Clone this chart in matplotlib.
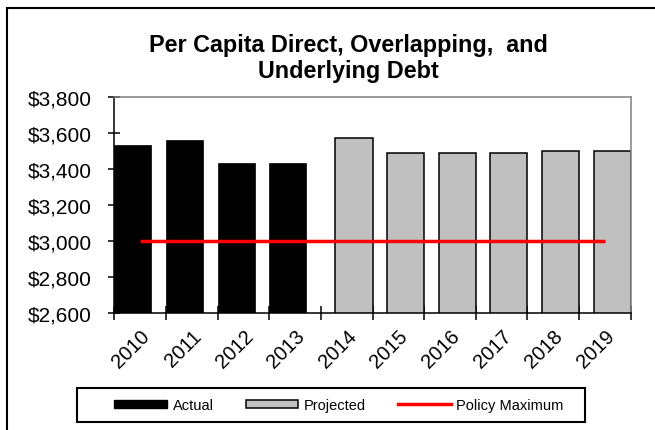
import matplotlib
matplotlib.use("Agg")
import matplotlib.pyplot as plt
from matplotlib.patches import Patch, Rectangle
from matplotlib.lines import Line2D
from matplotlib.ticker import FuncFormatter
import numpy as np

# data
actual_years = ['2010', '2011', '2012', '2013']
actual_debt = [3530, 3560, 3430, 3430]
projected_years = ['2014', '2015', '2016', '2017', '2018', '2019']
projected_debt = [3570, 3490, 3490, 3490, 3500, 3500]
policy_max = 3000
y_ticks = [2600, 2800, 3000, 3200, 3400, 3600, 3800]

plt.rcParams['font.family'] = ['Liberation Sans', 'DejaVu Sans']

W, H = 655, 431
fig = plt.figure(figsize=(W / 100, H / 100), dpi=100)

# outer chart border (runs off the right and bottom of the picture)
fig.patches.append(Rectangle((6.7 / W, -0.2), 1.5, (H - 9) / H + 0.2,
                             transform=fig.transFigure, fill=False,
                             edgecolor='black', linewidth=1.5))

ax = fig.add_axes([114.3 / W, (H - 314.3) / H, (630.7 - 114.3) / W, (314.3 - 97.7) / H])

years = actual_years + projected_years
x_all = np.arange(len(years))
bar_w = 0.72

# clustered layout: actual bars hug the left of each slot, projected the right
x_act = np.array([years.index(y) for y in actual_years])
x_proj = np.array([years.index(y) for y in projected_years])
ax.bar(x_act - 0.5, actual_debt, width=bar_w, align='edge',
       color='black', edgecolor='black', linewidth=0.5, zorder=2)
ax.bar(x_proj + 0.5 - bar_w, projected_debt, width=bar_w, align='edge',
       color='#C0C0C0', edgecolor='black', linewidth=1.1, zorder=2)
ax.plot([x_all[0], x_all[-1]], [policy_max, policy_max], color='#FF0000',
        linewidth=2.5, solid_capstyle='butt', zorder=3)

ax.set_xlim(-0.5, len(years) - 0.5)
ax.set_ylim(y_ticks[0], y_ticks[-1])
ax.set_yticks(y_ticks)
ax.yaxis.set_major_formatter(FuncFormatter(lambda v, p: f'${v:,.0f}'))

# tick marks between categories, labels at category centres
ax.set_xticks(np.arange(-0.5, len(years), 1.0))
ax.set_xticklabels([])
ax.set_xticks(x_all, minor=True)
ax.set_xticklabels(years, minor=True, rotation=45, ha='right',
                   rotation_mode='anchor', fontsize=14.5)
ax.tick_params(axis='x', which='major', direction='inout', length=9.5, width=1.1, color='black')
ax.tick_params(axis='x', which='minor', length=0, pad=9)
ax.tick_params(axis='y', direction='inout', length=8, width=1.1, labelsize=15, pad=12)
ax.set_axisbelow(True)

for side in ['left', 'bottom']:
    ax.spines[side].set_color('black')
    ax.spines[side].set_linewidth(1.1)
for side in ['top', 'right']:
    ax.spines[side].set_color('#808080')
    ax.spines[side].set_linewidth(1.1)

# title, two lines centred on the chart
fig.text(348.5 / W, (H - 52) / H, 'Per Capita Direct, Overlapping,  and',
         ha='center', va='baseline', fontsize=16.8, fontweight='bold')
fig.text(348.5 / W, (H - 78.3) / H, 'Underlying Debt',
         ha='center', va='baseline', fontsize=16.8, fontweight='bold')

# legend with a square black frame
fig.patches.append(Rectangle((77 / W, (H - 423) / H), (585 - 77) / W, 34 / H,
                             transform=fig.transFigure, fill=False,
                             edgecolor='black', linewidth=1.5))
handles = [Patch(facecolor='black', edgecolor='black', label='Actual'),
           Patch(facecolor='#C0C0C0', edgecolor='black', linewidth=1.1, label='Projected'),
           Line2D([], [], color='#FF0000', linewidth=2.5, label='Policy Maximum')]
fig.legend(handles=handles, loc='center', bbox_to_anchor=(339 / W, (H - 406) / H),
           ncol=3, frameon=False, fontsize=10.5, handlelength=3.6, handleheight=0.45,
           handletextpad=0.4, columnspacing=2.2, borderpad=0)

fig.savefig('out.png', dpi=100)
